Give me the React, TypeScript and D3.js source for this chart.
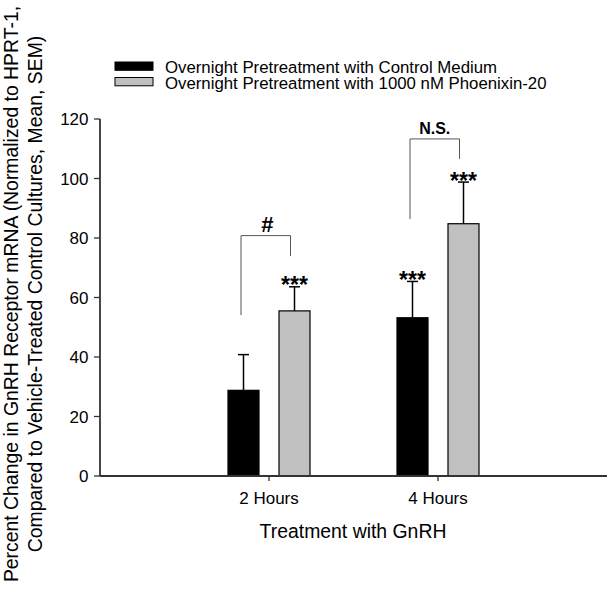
import React from "react";
import * as d3 from "d3";

const categories = ["2 Hours", "4 Hours"];
const controlMeans = [28.8, 53.2];
const controlSem = [12.0, 12.2];
const pnxMeans = [55.5, 84.8];
const pnxSem = [8.1, 14.0];
const controlStars = ["", "***"];
const pnxStars = ["***", "***"];
const yTicks = [0, 20, 40, 60, 80, 100, 120];
const seriesNames = [
  "Overnight Pretreatment with Control Medium",
  "Overnight Pretreatment with 1000 nM Phoenixin-20",
];
// bracket: [leftBottom, top, rightBottom] in data units
const bracketLabels = ["#", "N.S."];
const bracketLeft = [54.1, 86.4];
const bracketTop = [80.8, 113.3];
const bracketRight = [73.9, 106.6];

const FONT = "'Liberation Sans', Arial, Helvetica, sans-serif";

export default function App() {
  const W = 612, H = 595;
  const x = d3.scaleLinear().domain([0, 3]).range([100, 607]);
  const y = d3.scaleLinear().domain([0, 120]).range([476, 119]);
  const barW = 31;
  const off = 25.5;
  const capW = 11;

  const series = [
    { means: controlMeans, sem: controlSem, fill: "#000", stars: controlStars, dx: -off },
    { means: pnxMeans, sem: pnxSem, fill: "#c0c0c0", stars: pnxStars, dx: off },
  ];

  return (
    <svg width={W} height={H} style={{ position: "absolute", left: 0, top: 0, background: "#fff" }} fontFamily={FONT}>
      <rect width={W} height={H} fill="#fff" />
      {/* legend */}
      {seriesNames.map((n, i) => (
        <g key={n}>
          <rect x={115} y={62 + i * 15.5} width={38} height={8.3} fill={series[i].fill} stroke="#000" strokeWidth={1} />
          <text x={165} y={72.5 + i * 16} fontSize={16.8} fill="#000">{n}</text>
        </g>
      ))}
      {/* bars */}
      {series.map((s, si) =>
        s.means.map((m, i) => {
          const cx = x(i + 1) + s.dx;
          const top = y(m);
          const et = y(m + s.sem[i]);
          return (
            <g key={`${si}-${i}`}>
              <line x1={cx} x2={cx} y1={top} y2={et} stroke="#000" strokeWidth={1.5} />
              <line x1={cx - capW / 2} x2={cx + capW / 2} y1={et} y2={et} stroke="#000" strokeWidth={1.5} />
              <rect x={cx - barW / 2} y={top} width={barW} height={y(0) - top} fill={s.fill} stroke="#000" strokeWidth={1.2} />
              {s.stars[i] && (
                <text x={cx} y={et + 6.5} fontSize={23} fontWeight="bold" textAnchor="middle" fill="#000">{s.stars[i]}</text>
              )}
            </g>
          );
        })
      )}
      {/* brackets */}
      {bracketLabels.map((lab, i) => {
        const lx = x(i + 1) - off - 2.5;
        const rx = x(i + 1) + off - 4;
        return (
          <g key={lab}>
            <path
              d={`M${lx},${y(bracketLeft[i])}V${y(bracketTop[i])}H${rx}V${y(bracketRight[i])}`}
              fill="none" stroke="#555" strokeWidth={1}
            />
            <text x={(lx + rx) / 2 + (lab === "#" ? 1.5 : 0)} y={y(bracketTop[i]) - (lab === "#" ? 4 : 5)} fontSize={lab === "#" ? 22 : 16} fontWeight="bold" textAnchor="middle" fill="#000">{lab}</text>
          </g>
        );
      })}
      {/* y axis */}
      <line x1={x(0)} x2={x(0)} y1={y(0)} y2={y(120)} stroke="#333" strokeWidth={1.8} />
      {yTicks.map((t) => (
        <g key={t}>
          <line x1={x(0) - 6} x2={x(0)} y1={y(t)} y2={y(t)} stroke="#333" strokeWidth={1.3} />
          <text x={88.5} y={y(t) + 6} fontSize={17} textAnchor="end" fill="#000">{t}</text>
        </g>
      ))}
      {/* x axis */}
      <line x1={x(0)} x2={x(3)} y1={y(0)} y2={y(0)} stroke="#333" strokeWidth={1.8} />
      {categories.map((c, i) => (
        <g key={c}>
          <line x1={x(i + 1)} x2={x(i + 1)} y1={y(0)} y2={y(0) + 5} stroke="#333" strokeWidth={1.3} />
          <text x={x(i + 1)} y={504} fontSize={17} textAnchor="middle" fill="#000">{c}</text>
        </g>
      ))}
      <text x={353} y={538} fontSize={19.4} textAnchor="middle" fill="#000">Treatment with GnRH</text>
      {/* y title */}
      <text transform="translate(18,294) rotate(-90)" fontSize={19.4} textAnchor="middle" fill="#000">
        Percent Change in GnRH Receptor mRNA (Normalized to HPRT-1,
      </text>
      <text transform="translate(41.5,294) rotate(-90)" fontSize={19.4} textAnchor="middle" fill="#000">
        Compared to Vehicle-Treated Control Cultures, Mean, SEM)
      </text>
    </svg>
  );
}
